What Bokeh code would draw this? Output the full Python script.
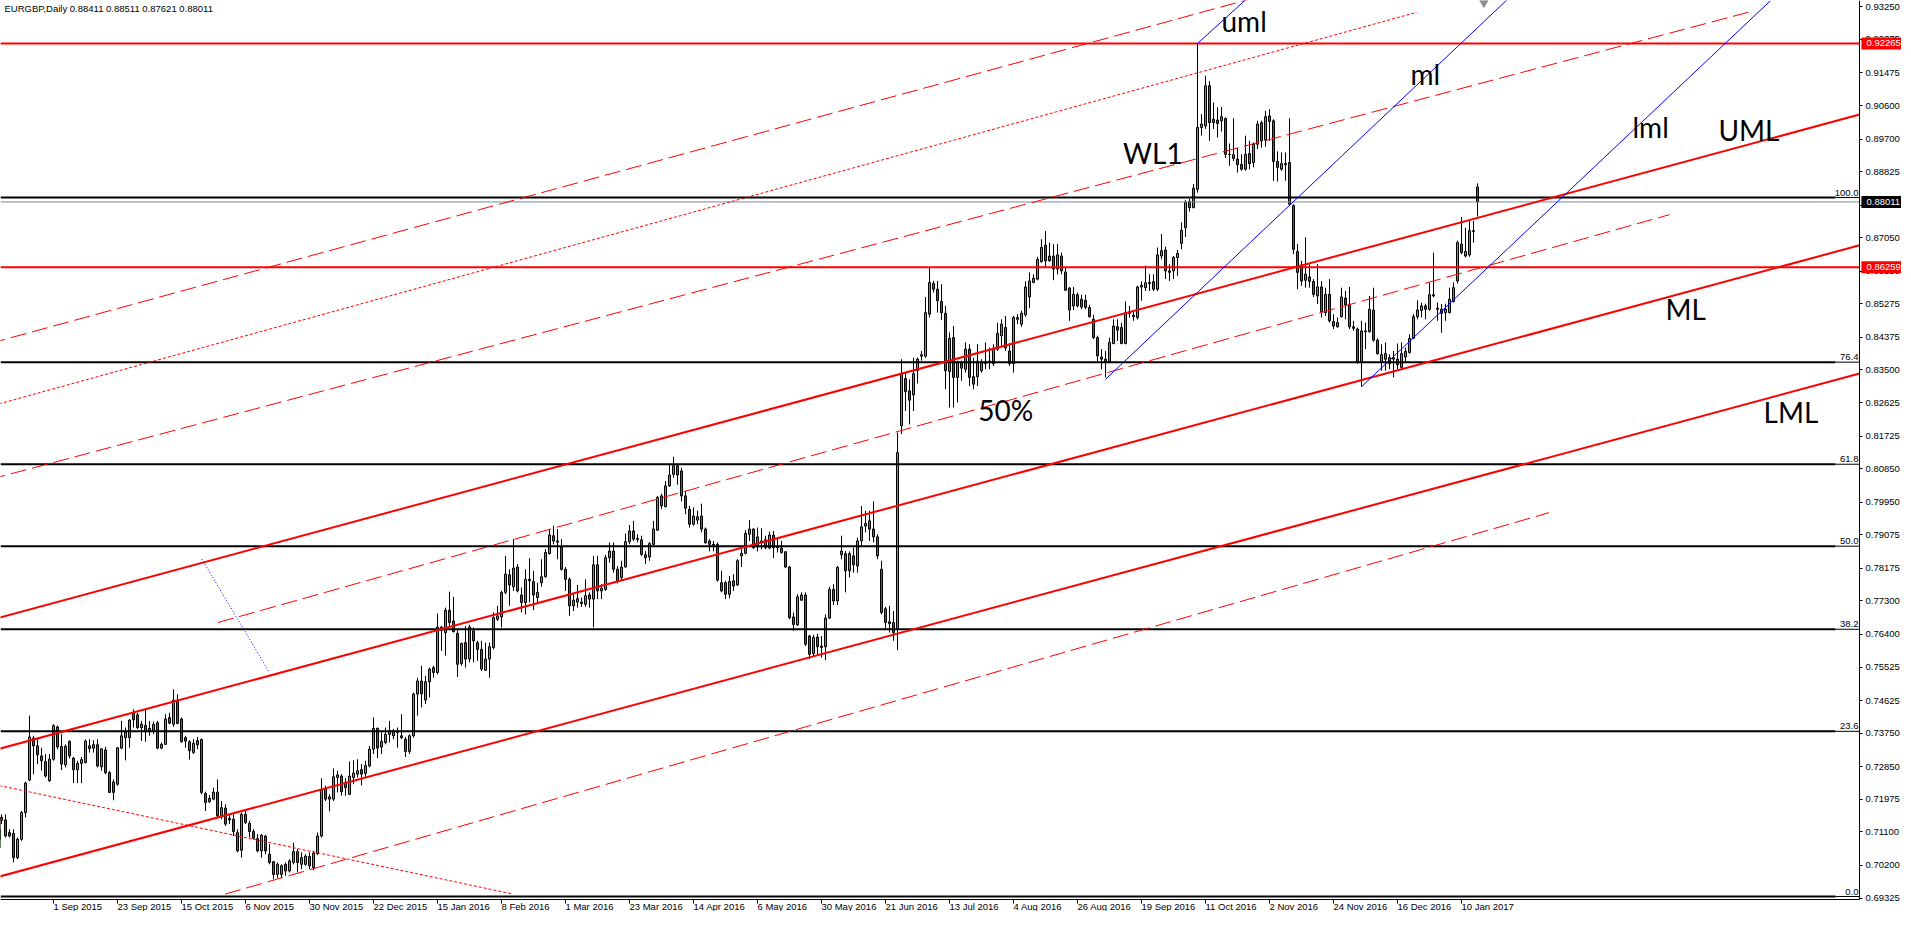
import numpy as np
from bokeh.plotting import figure
from bokeh.models import (ColumnDataSource, Range1d, LinearAxis, FixedTicker,
                          PrintfTickFormatter, Label, LabelSet)
from bokeh.core.properties import value
from bokeh.embed import file_html
from bokeh.resources import INLINE

# ---- EURGBP daily candles, bar 1 = 11 Aug 2015 ... bar 372 = 16 Jan 2017 ----
opens = [
    0.7068, 0.7090, 0.7149, 0.7142, 0.7108, 0.7106, 0.7041, 0.7090, 0.7162, 0.7249,
    0.7362, 0.7341, 0.7314, 0.7299, 0.7247, 0.7305, 0.7392, 0.7339, 0.7290, 0.7353,
    0.7308, 0.7277, 0.7294, 0.7296, 0.7341, 0.7335, 0.7344, 0.7285, 0.7330, 0.7269,
    0.7244, 0.7238, 0.7335, 0.7363, 0.7363, 0.7430, 0.7424, 0.7390, 0.7396, 0.7388,
    0.7383, 0.7403, 0.7335, 0.7345, 0.7417, 0.7399, 0.7464, 0.7413, 0.7363, 0.7352,
    0.7323, 0.7355, 0.7358, 0.7213, 0.7191, 0.7198, 0.7217, 0.7153, 0.7174, 0.7146,
    0.7144, 0.7108, 0.7061, 0.7157, 0.7133, 0.7111, 0.7092, 0.7059, 0.7099, 0.7050,
    0.7030, 0.6996, 0.6996, 0.7023, 0.7005, 0.7028, 0.7057, 0.7023, 0.7023, 0.7044,
    0.7014, 0.7052, 0.7099, 0.7225, 0.7198, 0.7198, 0.7256, 0.7260, 0.7243, 0.7211,
    0.7256, 0.7265, 0.7277, 0.7267, 0.7287, 0.7332, 0.7388, 0.7338, 0.7350, 0.7372,
    0.7368, 0.7377, 0.7368, 0.7359, 0.7326, 0.7368, 0.7480, 0.7515, 0.7464, 0.7513,
    0.7551, 0.7538, 0.7660, 0.7645, 0.7705, 0.7676, 0.7643, 0.7562, 0.7618, 0.7574,
    0.7650, 0.7618, 0.7600, 0.7544, 0.7574, 0.7605, 0.7681, 0.7687, 0.7753, 0.7800,
    0.7768, 0.7821, 0.7746, 0.7726, 0.7788, 0.7782, 0.7739, 0.7779, 0.7795, 0.7857,
    0.7905, 0.7891, 0.7875, 0.7815, 0.7788, 0.7717, 0.7727, 0.7727, 0.7721, 0.7746,
    0.7735, 0.7827, 0.7757, 0.7761, 0.7846, 0.7864, 0.7815, 0.7793, 0.7821, 0.7889,
    0.7918, 0.7895, 0.7894, 0.7854, 0.7848, 0.7882, 0.7920, 0.8012, 0.7983, 0.8039,
    0.8070, 0.8093, 0.8079, 0.8012, 0.7976, 0.7936, 0.7947, 0.7958, 0.7923, 0.7891,
    0.7882, 0.7882, 0.7779, 0.7779, 0.7748, 0.7784, 0.7773, 0.7851, 0.7858, 0.7909,
    0.7923, 0.7875, 0.7891, 0.7894, 0.7872, 0.7907, 0.7876, 0.7872, 0.7862, 0.7821,
    0.7687, 0.7666, 0.7732, 0.7746, 0.7636, 0.7589, 0.7633, 0.7605, 0.7607, 0.7684,
    0.7761, 0.7730, 0.7854, 0.7857, 0.7811, 0.7851, 0.7824, 0.7891, 0.7931, 0.7945,
    0.7923, 0.7902, 0.7815, 0.7709, 0.7674, 0.7672, 0.7654, 0.8200, 0.8327, 0.8294,
    0.8283, 0.8348, 0.8387, 0.8387, 0.8500, 0.8582, 0.8567, 0.8534, 0.8502, 0.8346,
    0.8437, 0.8330, 0.8370, 0.8352, 0.8406, 0.8332, 0.8332, 0.8348, 0.8367, 0.8370,
    0.8367, 0.8406, 0.8442, 0.8464, 0.8401, 0.8367, 0.8486, 0.8473, 0.8498, 0.8546,
    0.8585, 0.8594, 0.8641, 0.8685, 0.8656, 0.8656, 0.8621, 0.8656, 0.8613, 0.8570,
    0.8522, 0.8552, 0.8540, 0.8537, 0.8518, 0.8486, 0.8437, 0.8385, 0.8379, 0.8373,
    0.8421, 0.8466, 0.8464, 0.8421, 0.8506, 0.8493, 0.8491, 0.8573, 0.8571, 0.8585,
    0.8587, 0.8567, 0.8656, 0.8672, 0.8616, 0.8616, 0.8652, 0.8690, 0.8732, 0.8802,
    0.8786, 0.8835, 0.9001, 0.9005, 0.9113, 0.9023, 0.9021, 0.9019, 0.9025, 0.8929,
    0.8928, 0.8916, 0.8902, 0.8889, 0.8931, 0.8907, 0.8956, 0.9014, 0.8967, 0.9032,
    0.9019, 0.8910, 0.8889, 0.8901, 0.8907, 0.8791, 0.8668, 0.8632, 0.8591, 0.8600,
    0.8588, 0.8549, 0.8573, 0.8504, 0.8553, 0.8480, 0.8466, 0.8493, 0.8543, 0.8525,
    0.8466, 0.8460, 0.8370, 0.8453, 0.8453, 0.8511, 0.8430, 0.8370, 0.8379, 0.8383,
    0.8379, 0.8379, 0.8357, 0.8385, 0.8397, 0.8435, 0.8493, 0.8510, 0.8522, 0.8513,
    0.8549, 0.8516, 0.8513, 0.8504, 0.8504, 0.8534, 0.8589, 0.8688, 0.8656, 0.8659,
    0.8722, 0.88411,
]
highs = [
    0.7126, 0.7169, 0.7157, 0.7157, 0.7117, 0.7117, 0.7095, 0.7166, 0.7245, 0.7422,
    0.7368, 0.7363, 0.7336, 0.7319, 0.7319, 0.7399, 0.7395, 0.7372, 0.7345, 0.7356,
    0.7311, 0.7301, 0.7311, 0.7358, 0.7359, 0.7356, 0.7359, 0.7334, 0.7338, 0.7274,
    0.7251, 0.7338, 0.7408, 0.7390, 0.7413, 0.7439, 0.7430, 0.7408, 0.7442, 0.7408,
    0.7406, 0.7408, 0.7350, 0.7426, 0.7430, 0.7493, 0.7480, 0.7417, 0.7368, 0.7356,
    0.7359, 0.7365, 0.7361, 0.7218, 0.7209, 0.7229, 0.7251, 0.7193, 0.7184, 0.7157,
    0.7157, 0.7117, 0.7162, 0.7166, 0.7140, 0.7117, 0.7104, 0.7104, 0.7102, 0.7077,
    0.7032, 0.7028, 0.7023, 0.7028, 0.7037, 0.7081, 0.7064, 0.7055, 0.7050, 0.7055,
    0.7059, 0.7108, 0.7254, 0.7234, 0.7211, 0.7280, 0.7274, 0.7265, 0.7254, 0.7299,
    0.7302, 0.7305, 0.7292, 0.7301, 0.7341, 0.7417, 0.7390, 0.7377, 0.7390, 0.7408,
    0.7386, 0.7390, 0.7426, 0.7365, 0.7372, 0.7484, 0.7524, 0.7556, 0.7529, 0.7551,
    0.7556, 0.7696, 0.7663, 0.7712, 0.7755, 0.7741, 0.7651, 0.7618, 0.7663, 0.7666,
    0.7659, 0.7623, 0.7623, 0.7618, 0.7618, 0.7699, 0.7717, 0.7757, 0.7851, 0.7815,
    0.7896, 0.7829, 0.7766, 0.7815, 0.7845, 0.7811, 0.7779, 0.7842, 0.7869, 0.7923,
    0.7932, 0.7923, 0.7896, 0.7821, 0.7793, 0.7748, 0.7773, 0.7739, 0.7788, 0.7753,
    0.7851, 0.7851, 0.7775, 0.7854, 0.7887, 0.7887, 0.7824, 0.7838, 0.7911, 0.7934,
    0.7945, 0.7909, 0.7905, 0.7864, 0.7888, 0.7945, 0.8012, 0.8018, 0.8052, 0.8095,
    0.8117, 0.8097, 0.8088, 0.8025, 0.7985, 0.7981, 0.7972, 0.7991, 0.7927, 0.7896,
    0.7891, 0.7887, 0.7811, 0.7784, 0.7797, 0.7802, 0.7842, 0.7869, 0.7920, 0.7947,
    0.7925, 0.7927, 0.7925, 0.7905, 0.7916, 0.7918, 0.7896, 0.7891, 0.7864, 0.7824,
    0.7699, 0.7748, 0.7753, 0.7753, 0.7639, 0.7639, 0.7642, 0.7636, 0.7694, 0.7768,
    0.7775, 0.7824, 0.7905, 0.7864, 0.7863, 0.7873, 0.7900, 0.7985, 0.7972, 0.7972,
    0.7997, 0.7909, 0.7838, 0.7714, 0.7717, 0.7703, 0.8182, 0.8379, 0.8343, 0.8325,
    0.8383, 0.8383, 0.8401, 0.8546, 0.8627, 0.8589, 0.8589, 0.8580, 0.8522, 0.8451,
    0.8468, 0.8375, 0.8375, 0.8424, 0.8419, 0.8383, 0.8419, 0.8379, 0.8424, 0.8410,
    0.8419, 0.8477, 0.8486, 0.8495, 0.8421, 0.8495, 0.8500, 0.8509, 0.8588, 0.8612,
    0.8607, 0.8654, 0.8701, 0.8723, 0.8692, 0.8688, 0.8688, 0.8665, 0.8625, 0.8573,
    0.8573, 0.8558, 0.8552, 0.8552, 0.8525, 0.8498, 0.8442, 0.8406, 0.8401, 0.8437,
    0.8486, 0.8486, 0.8477, 0.8534, 0.8522, 0.8509, 0.8576, 0.8588, 0.8630, 0.8607,
    0.8607, 0.8679, 0.8715, 0.8681, 0.8634, 0.8656, 0.8672, 0.8746, 0.8806, 0.8809,
    0.8849, 0.9226, 0.9037, 0.9140, 0.9125, 0.9068, 0.9055, 0.9056, 0.9028, 0.8958,
    0.9026, 0.8947, 0.8929, 0.8979, 0.8965, 0.8961, 0.9019, 0.9019, 0.9046, 0.9050,
    0.9023, 0.8937, 0.8934, 0.8934, 0.9026, 0.8795, 0.8688, 0.8643, 0.8706, 0.8634,
    0.8594, 0.8634, 0.8589, 0.8571, 0.8594, 0.8500, 0.8491, 0.8571, 0.8562, 0.8573,
    0.8482, 0.8464, 0.8482, 0.8477, 0.8549, 0.8571, 0.8435, 0.8419, 0.8424, 0.8392,
    0.8401, 0.8421, 0.8424, 0.8410, 0.8446, 0.8500, 0.8537, 0.8531, 0.8528, 0.8585,
    0.8665, 0.8531, 0.8527, 0.8528, 0.8571, 0.8585, 0.8697, 0.8761, 0.8732, 0.8749,
    0.8750, 0.88511,
]
lows = [
    0.7041, 0.7081, 0.7131, 0.7095, 0.7095, 0.7028, 0.7037, 0.7086, 0.7149, 0.7247,
    0.7265, 0.7292, 0.7274, 0.7256, 0.7245, 0.7301, 0.7332, 0.7276, 0.7283, 0.7307,
    0.7241, 0.7241, 0.7241, 0.7294, 0.7323, 0.7323, 0.7283, 0.7274, 0.7265, 0.7214,
    0.7195, 0.7234, 0.7332, 0.7302, 0.7336, 0.7390, 0.7386, 0.7354, 0.7352, 0.7368,
    0.7372, 0.7332, 0.7332, 0.7344, 0.7399, 0.7392, 0.7399, 0.7350, 0.7336, 0.7304,
    0.7319, 0.7332, 0.7211, 0.7166, 0.7188, 0.7195, 0.7149, 0.7144, 0.7126, 0.7131,
    0.7099, 0.7055, 0.7041, 0.7131, 0.7095, 0.7090, 0.7055, 0.7041, 0.7050, 0.7023,
    0.6983, 0.6986, 0.6986, 0.6992, 0.7001, 0.7023, 0.7001, 0.7010, 0.7019, 0.7010,
    0.7007, 0.7048, 0.7095, 0.7193, 0.7165, 0.7193, 0.7216, 0.7207, 0.7207, 0.7209,
    0.7238, 0.7256, 0.7235, 0.7256, 0.7283, 0.7319, 0.7308, 0.7319, 0.7345, 0.7350,
    0.7359, 0.7336, 0.7359, 0.7311, 0.7319, 0.7363, 0.7422, 0.7444, 0.7453, 0.7471,
    0.7524, 0.7533, 0.7596, 0.7583, 0.7663, 0.7645, 0.7526, 0.7556, 0.7551, 0.7565,
    0.7565, 0.7569, 0.7542, 0.7542, 0.7524, 0.7600, 0.7676, 0.7659, 0.7748, 0.7717,
    0.7757, 0.7753, 0.7699, 0.7694, 0.7726, 0.7705, 0.7721, 0.7768, 0.7793, 0.7855,
    0.7882, 0.7842, 0.7811, 0.7757, 0.7690, 0.7703, 0.7712, 0.7714, 0.7714, 0.7712,
    0.7659, 0.7735, 0.7735, 0.7757, 0.7833, 0.7806, 0.7777, 0.7786, 0.7820, 0.7882,
    0.7891, 0.7887, 0.7851, 0.7829, 0.7838, 0.7880, 0.7918, 0.7976, 0.7981, 0.8036,
    0.8061, 0.8042, 0.7997, 0.7963, 0.7927, 0.7932, 0.7936, 0.7914, 0.7884, 0.7863,
    0.7863, 0.7782, 0.7753, 0.7735, 0.7737, 0.7757, 0.7770, 0.7821, 0.7855, 0.7891,
    0.7869, 0.7863, 0.7869, 0.7869, 0.7869, 0.7845, 0.7860, 0.7857, 0.7818, 0.7681,
    0.7650, 0.7663, 0.7730, 0.7609, 0.7574, 0.7582, 0.7582, 0.7578, 0.7571, 0.7681,
    0.7719, 0.7719, 0.7842, 0.7753, 0.7793, 0.7806, 0.7806, 0.7878, 0.7914, 0.7891,
    0.7887, 0.7842, 0.7694, 0.7654, 0.7645, 0.7623, 0.7598, 0.8178, 0.8240, 0.8204,
    0.8240, 0.8314, 0.8375, 0.8383, 0.8491, 0.8558, 0.8504, 0.8484, 0.8298, 0.8249,
    0.8249, 0.8263, 0.8321, 0.8343, 0.8307, 0.8298, 0.8307, 0.8343, 0.8352, 0.8352,
    0.8361, 0.8401, 0.8415, 0.8401, 0.8361, 0.8343, 0.8473, 0.8466, 0.8493, 0.8516,
    0.8583, 0.8591, 0.8638, 0.8625, 0.8641, 0.8591, 0.8607, 0.8607, 0.8562, 0.8482,
    0.8511, 0.8518, 0.8513, 0.8513, 0.8491, 0.8433, 0.8374, 0.8352, 0.8330, 0.8370,
    0.8419, 0.8428, 0.8419, 0.8419, 0.8491, 0.8482, 0.8486, 0.8536, 0.8562, 0.8562,
    0.8562, 0.8562, 0.8647, 0.8594, 0.8589, 0.8594, 0.8603, 0.8674, 0.8707, 0.8775,
    0.8784, 0.8826, 0.8979, 0.8997, 0.8965, 0.8997, 0.8974, 0.8990, 0.8919, 0.8898,
    0.8911, 0.8880, 0.8885, 0.8885, 0.8889, 0.8894, 0.8943, 0.8947, 0.8949, 0.8965,
    0.8858, 0.8856, 0.8885, 0.8858, 0.8791, 0.8661, 0.8567, 0.8576, 0.8571, 0.8571,
    0.8546, 0.8527, 0.8491, 0.8495, 0.8477, 0.8460, 0.8464, 0.8491, 0.8486, 0.8460,
    0.8455, 0.8367, 0.8305, 0.8406, 0.8450, 0.8426, 0.8391, 0.8348, 0.8348, 0.8352,
    0.8330, 0.8352, 0.8352, 0.8370, 0.8394, 0.8433, 0.8486, 0.8491, 0.8486, 0.8509,
    0.8545, 0.8482, 0.8450, 0.8482, 0.8502, 0.8531, 0.8582, 0.8661, 0.8652, 0.8654,
    0.8692, 0.87621,
]
closes = [
    0.7117, 0.7149, 0.7141, 0.7099, 0.7099, 0.7041, 0.7090, 0.7162, 0.7241, 0.7365,
    0.7341, 0.7317, 0.7301, 0.7260, 0.7305, 0.7395, 0.7338, 0.7292, 0.7340, 0.7314,
    0.7277, 0.7294, 0.7304, 0.7354, 0.7334, 0.7344, 0.7287, 0.7333, 0.7269, 0.7216,
    0.7216, 0.7336, 0.7368, 0.7379, 0.7410, 0.7411, 0.7390, 0.7399, 0.7379, 0.7381,
    0.7399, 0.7335, 0.7345, 0.7413, 0.7402, 0.7464, 0.7401, 0.7352, 0.7354, 0.7328,
    0.7348, 0.7344, 0.7216, 0.7189, 0.7200, 0.7217, 0.7153, 0.7175, 0.7131, 0.7142,
    0.7111, 0.7059, 0.7157, 0.7135, 0.7111, 0.7093, 0.7059, 0.7101, 0.7059, 0.7028,
    0.6996, 0.7023, 0.7019, 0.7005, 0.7032, 0.7057, 0.7028, 0.7041, 0.7045, 0.7019,
    0.7053, 0.7099, 0.7222, 0.7198, 0.7204, 0.7258, 0.7263, 0.7218, 0.7229, 0.7260,
    0.7268, 0.7274, 0.7265, 0.7288, 0.7332, 0.7388, 0.7335, 0.7353, 0.7372, 0.7381,
    0.7379, 0.7381, 0.7363, 0.7326, 0.7368, 0.7480, 0.7515, 0.7481, 0.7513, 0.7547,
    0.7538, 0.7660, 0.7651, 0.7705, 0.7672, 0.7648, 0.7560, 0.7616, 0.7574, 0.7660,
    0.7623, 0.7600, 0.7547, 0.7574, 0.7607, 0.7685, 0.7690, 0.7753, 0.7802, 0.7773,
    0.7818, 0.7757, 0.7726, 0.7788, 0.7784, 0.7746, 0.7753, 0.7795, 0.7860, 0.7907,
    0.7891, 0.7888, 0.7815, 0.7788, 0.7717, 0.7732, 0.7736, 0.7723, 0.7744, 0.7735,
    0.7827, 0.7757, 0.7764, 0.7846, 0.7864, 0.7815, 0.7782, 0.7821, 0.7889, 0.7918,
    0.7896, 0.7898, 0.7855, 0.7846, 0.7884, 0.7923, 0.8008, 0.7985, 0.8039, 0.8068,
    0.8093, 0.8068, 0.8012, 0.7979, 0.7936, 0.7958, 0.7956, 0.7923, 0.7886, 0.7882,
    0.7880, 0.7786, 0.7757, 0.7748, 0.7782, 0.7770, 0.7838, 0.7858, 0.7911, 0.7923,
    0.7873, 0.7902, 0.7887, 0.7873, 0.7907, 0.7873, 0.7873, 0.7860, 0.7821, 0.7685,
    0.7667, 0.7741, 0.7746, 0.7614, 0.7587, 0.7632, 0.7607, 0.7609, 0.7684, 0.7761,
    0.7730, 0.7820, 0.7864, 0.7811, 0.7857, 0.7827, 0.7891, 0.7929, 0.7938, 0.7923,
    0.7902, 0.7851, 0.7699, 0.7672, 0.7669, 0.7645, 0.8128, 0.8339, 0.8292, 0.8269,
    0.8340, 0.8379, 0.8391, 0.8504, 0.8585, 0.8567, 0.8536, 0.8504, 0.8348, 0.8435,
    0.8330, 0.8370, 0.8355, 0.8406, 0.8330, 0.8312, 0.8374, 0.8370, 0.8373, 0.8374,
    0.8409, 0.8448, 0.8473, 0.8409, 0.8367, 0.8491, 0.8491, 0.8502, 0.8573, 0.8589,
    0.8596, 0.8647, 0.8679, 0.8643, 0.8643, 0.8621, 0.8659, 0.8616, 0.8564, 0.8511,
    0.8553, 0.8522, 0.8519, 0.8518, 0.8493, 0.8437, 0.8388, 0.8379, 0.8373, 0.8424,
    0.8468, 0.8457, 0.8421, 0.8504, 0.8502, 0.8497, 0.8573, 0.8577, 0.8584, 0.8582,
    0.8567, 0.8659, 0.8670, 0.8616, 0.8612, 0.8652, 0.8663, 0.8725, 0.8800, 0.8786,
    0.8838, 0.9001, 0.9010, 0.9113, 0.9014, 0.9014, 0.9012, 0.9030, 0.8929, 0.8928,
    0.8918, 0.8901, 0.8889, 0.8929, 0.8904, 0.8956, 0.9010, 0.8965, 0.9030, 0.9017,
    0.8910, 0.8894, 0.8904, 0.8904, 0.8795, 0.8674, 0.8612, 0.8589, 0.8607, 0.8588,
    0.8553, 0.8573, 0.8507, 0.8553, 0.8482, 0.8468, 0.8477, 0.8546, 0.8525, 0.8466,
    0.8462, 0.8370, 0.8455, 0.8455, 0.8513, 0.8430, 0.8394, 0.8391, 0.8394, 0.8367,
    0.8383, 0.8364, 0.8394, 0.8400, 0.8435, 0.8493, 0.8511, 0.8522, 0.8513, 0.8552,
    0.8552, 0.8513, 0.8502, 0.8513, 0.8540, 0.8571, 0.8692, 0.8665, 0.8668, 0.8724,
    0.8724, 0.88011,
]

# x axis: MT4 date labels every 16 bars (bar 0 = 10 Aug 2015)
date_bars = [16, 32, 48, 64, 80, 96, 112, 128, 144, 160, 176, 192, 208, 224, 240,
             256, 272, 288, 304, 320, 336, 352, 368]
date_labels = ["1 Sep 2015", "23 Sep 2015", "15 Oct 2015", "6 Nov 2015", "30 Nov 2015",
               "22 Dec 2015", "15 Jan 2016", "8 Feb 2016", "1 Mar 2016", "23 Mar 2016",
               "14 Apr 2016", "6 May 2016", "30 May 2016", "21 Jun 2016", "13 Jul 2016",
               "4 Aug 2016", "26 Aug 2016", "19 Sep 2016", "11 Oct 2016", "2 Nov 2016",
               "24 Nov 2016", "16 Dec 2016", "10 Jan 2017"]

price_ticks = [0.93250, 0.92375, 0.91475, 0.90600, 0.89700, 0.88825, 0.87925, 0.87050,
               0.86150, 0.85275, 0.84375, 0.83500, 0.82625, 0.81725, 0.80850, 0.79950,
               0.79075, 0.78175, 0.77300, 0.76400, 0.75525, 0.74625, 0.73750, 0.72850,
               0.71975, 0.71100, 0.70200, 0.69325]

# fibonacci retracement levels
fib_names = ["100.0", "76.4", "61.8", "50.0", "38.2", "23.6", "0.0"]
fib_prices = [0.8813, 0.8371, 0.8097, 0.7877, 0.7654, 0.7380, 0.69365]

# horizontal red levels and the current bid
red_levels = [0.92265, 0.86259]
bid = 0.88011

# pitchfork median lines (bar, price) -> (bar, price)
thick_x0 = [0, 0, 0]
thick_y0 = [0.7678, 0.7326, 0.6983]
thick_x1 = [467.5, 467.5, 467.5]
thick_y1 = [0.90357, 0.86847, 0.83407]

# warning lines, long dashes
dash_x0 = [0, 0, 57.1, 58.9]
dash_y0 = [0.8421, 0.8056, 0.7672, 0.6943]
dash_x1 = [320, 441, 420, 389.9]
dash_y1 = [0.9360, 0.9314, 0.8767, 0.7967]

# short-dash red lines
dot_x0 = [0, 0]
dot_y0 = [0.8252, 0.7240]
dot_x1 = [356.75, 130.5]
dot_y1 = [0.9310, 0.6944]

# mini pitchfork (blue)
blue_x0 = [302, 279, 343]
blue_y0 = [0.92265, 0.8325, 0.8305]
blue_x1 = [316, 380, 445.2]
blue_y1 = [0.9363, 0.9350, 0.9341]

handle_x0, handle_y0, handle_x1, handle_y1 = [53.1], [0.7842], [69.75], [0.7542]

# chart text objects
note_text = ["uml", "ml", "lml", "UML", "ML", "LML", "WL1", "50%"]
note_bar = [308, 355.25, 410.75, 432.25, 419, 443.5, 283.4, 247.2]
note_price = [0.9256, 0.9116, 0.8974, 0.8966, 0.8483, 0.8209, 0.8904, 0.8214]

title_text = "EURGBP,Daily  0.88411 0.88511 0.87621 0.88011"

BULL = "#3CB44B"
BEAR = "#E02030"
SMALL = "9.5px"
FONT = "Liberation Sans"

# chart area: bars 2.75..467.5 wide, price 0.69285..0.93419; the rest is the scale area
X_LEFT, X_EDGE, X_RIGHT = 2.75, 467.5, 478.0
Y_BASE, Y_TOP, Y_BOTTOM = 0.69285, 0.93419, 0.68963
PX_PER_PRICE = 3725.0

bars = np.arange(1, len(closes) + 1)
o = np.array(opens)
c = np.array(closes)
candles = ColumnDataSource(dict(
    bar=bars, high=highs, low=lows,
    top=np.maximum(o, c), bottom=np.minimum(o, c),
    color=[BULL if cc >= oo else BEAR for oo, cc in zip(o, c)],
))

p = figure(width=1901, height=911, x_range=Range1d(X_LEFT, X_RIGHT),
           y_range=Range1d(Y_BOTTOM, Y_TOP), x_axis_type=None, y_axis_type=None,
           toolbar_location=None, output_backend="svg", title=None,
           min_border_left=0, min_border_top=0, min_border_right=0,
           min_border_bottom=0, outline_line_color=None,
           background_fill_color="white", border_fill_color="white")

# price scale on the right edge of the chart area
yaxis = LinearAxis(fixed_location=X_EDGE, bounds=(Y_BASE, Y_TOP),
                   ticker=FixedTicker(ticks=price_ticks, minor_ticks=[]),
                   formatter=PrintfTickFormatter(format="%.5f"),
                   major_tick_out=3, major_tick_in=0, minor_tick_out=0, minor_tick_in=0,
                   major_label_standoff=3, major_label_text_font=FONT,
                   major_label_text_font_size=SMALL, major_label_text_color="black",
                   axis_line_color="black", major_tick_line_color="black")
p.add_layout(yaxis, "right")

# time scale under the chart area (labels drawn separately, left aligned)
xaxis = LinearAxis(fixed_location=Y_BASE, bounds=(X_LEFT, X_EDGE),
                   ticker=FixedTicker(ticks=date_bars, minor_ticks=[]),
                   major_label_overrides={b: "" for b in date_bars},
                   major_tick_out=4, major_tick_in=0, minor_tick_out=0, minor_tick_in=0,
                   major_label_standoff=0, major_label_text_font_size=SMALL,
                   axis_line_color="black", major_tick_line_color="black")
p.add_layout(xaxis, "below")

# candles
p.segment(x0="bar", y0="high", x1="bar", y1="low", source=candles,
          line_color="black", line_width=1)
p.vbar(x="bar", width=0.5, top="top", bottom="bottom", source=candles,
       fill_color="color", line_color="black", line_width=1)

# horizontal levels across the chart area
n_fib = len(fib_prices)
p.segment(x0=[X_LEFT] * n_fib, y0=fib_prices, x1=[461.5] * n_fib, y1=fib_prices,
          line_color="black", line_width=2)
p.segment(x0=[461.5] * n_fib, y0=fib_prices, x1=[X_EDGE] * n_fib, y1=fib_prices,
          line_color="black", line_width=1)
p.segment(x0=[X_LEFT] * 2, y0=red_levels, x1=[X_EDGE] * 2, y1=red_levels,
          line_color="#FF0000", line_width=2)
p.segment(x0=[X_LEFT], y0=[bid], x1=[X_EDGE], y1=[bid],
          line_color="#778899", line_width=1)

# pitchfork lines
p.segment(x0=thick_x0, y0=thick_y0, x1=thick_x1, y1=thick_y1,
          line_color="#FF0000", line_width=2)
p.segment(x0=dash_x0, y0=dash_y0, x1=dash_x1, y1=dash_y1,
          line_color="#FF0000", line_width=1, line_dash="16 6")
p.segment(x0=dot_x0, y0=dot_y0, x1=dot_x1, y1=dot_y1,
          line_color="#FF0000", line_width=1, line_dash="3 2")
p.segment(x0=blue_x0, y0=blue_y0, x1=blue_x1, y1=blue_y1,
          line_color="#0000FF", line_width=1)
p.segment(x0=handle_x0, y0=handle_y0, x1=handle_x1, y1=handle_y1,
          line_color="#0000FF", line_width=1, line_dash="1 2")

# chart shift marker at the top
p.scatter(x=[373.6], y=[0.93373], marker="inverted_triangle", size=9,
          fill_color="#8C8C8C", line_color="#8C8C8C")

# chart notes
notes = ColumnDataSource(dict(x=note_bar, y=note_price, text=note_text))
p.add_layout(LabelSet(x="x", y="y", text="text", source=notes,
                      text_font=value("Lato"), text_font_size="28px",
                      text_color="black", text_align="left",
                      text_baseline="alphabetic"))

# fib level captions
fibs = ColumnDataSource(dict(x=[467.25] * n_fib, y=fib_prices, text=fib_names))
p.add_layout(LabelSet(x="x", y="y", text="text", source=fibs,
                      text_font=value(FONT), text_font_size=SMALL,
                      text_color="black", text_align="right",
                      text_baseline="alphabetic", y_offset=2))

# date labels, left aligned at their tick like MT4
dates = ColumnDataSource(dict(x=date_bars, y=[Y_BASE] * len(date_bars), text=date_labels))
p.add_layout(LabelSet(x="x", y="y", text="text", source=dates,
                      text_font=value(FONT), text_font_size=SMALL,
                      text_color="black", text_align="left",
                      text_baseline="alphabetic", y_offset=-10, x_offset=0))

# price tags on the scale, drawn above the scale labels
tag_prices = [red_levels[0], bid, red_levels[1]]
tags = ColumnDataSource(dict(
    y=tag_prices, text=["%.5f" % v for v in tag_prices],
    fill=["#FF0000", "black", "#FF0000"],
))
p.rect(x=473.1, y="y", width=10.25, height=12 / PX_PER_PRICE, source=tags,
       fill_color="fill", line_color=None, level="overlay")
p.text(x=469.25, y="y", text="text", source=tags, text_font=value(FONT),
       text_font_size=SMALL, text_color="white", text_align="left",
       text_baseline="middle", level="overlay")

p.add_layout(Label(x=X_LEFT, y=Y_TOP, text=title_text, text_font=FONT,
                   text_font_size=SMALL, text_color="black", text_align="left",
                   text_baseline="top", x_offset=4, y_offset=-2))

open("out.html", "w").write(file_html(p, INLINE))
